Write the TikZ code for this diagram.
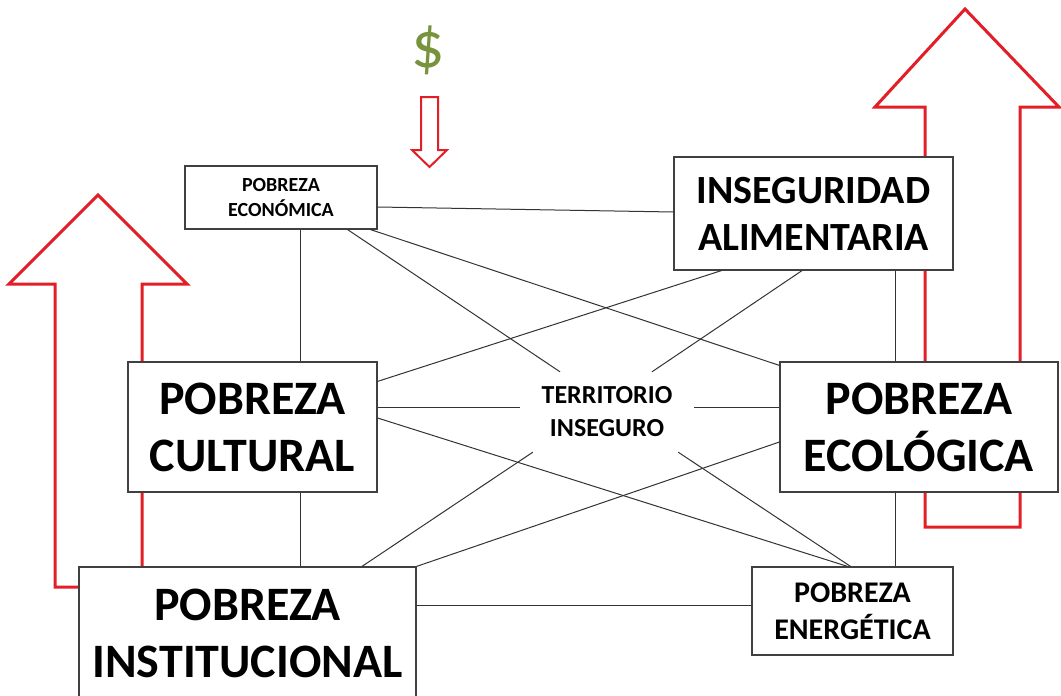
\documentclass[tikz,border=0pt]{standalone}
\usepackage{fontspec}
\setmainfont{Carlito}
\usetikzlibrary{calc}
\definecolor{flechared}{RGB}{226,30,38}
\definecolor{dinerogreen}{RGB}{119,147,60}

\begin{document}
\begin{tikzpicture}[x=1pt, y=-1pt,
		box/.style={draw=black!75, line width=1.2pt, fill=white, align=center, inner sep=0pt},
		link/.style={draw=black!80, line width=1pt},
		redarrow/.style={draw=flechared, line width=3pt, line join=miter}]
			%%%%% START %%%%%
			
			\fill[white] (0, 0) rectangle (1061, 696);
			\useasboundingbox (0, 0) rectangle (1061, 696);
			
			% flechas rojas (detras de las cajas)
			\draw[redarrow] (55, 587) -- (55, 284) -- (9, 284) -- (98, 195) -- (187, 284) -- (142, 284) -- (142, 587) -- cycle;
			\draw[redarrow] (925, 527) -- (925, 107) -- (875, 107) -- (965, 9) -- (1059, 107) -- (1020, 107) -- (1020, 527) -- cycle;
			\draw[draw=flechared, line width=2pt] (421, 97) -- (438, 97) -- (438, 150) -- (447, 150) -- (429.5, 167) -- (412, 150) -- (421, 150) -- cycle;
			
			\node[text=dinerogreen, font=\fontsize{66}{68}\selectfont] (dinero) at (428, 50) {\$};
			
			% cajas
			\node[box, minimum width=192pt, minimum height=63pt, font=\fontsize{20}{25}\selectfont\bfseries] (econ) at (281, 197.5) {POBREZA\\ECONÓMICA};
			\node[box, minimum width=279pt, minimum height=113pt, font=\fontsize{40}{47}\selectfont\bfseries] (insec) at (813.5, 213.5) {INSEGURIDAD\\ALIMENTARIA};
			\node[box, minimum width=249pt, minimum height=130pt, font=\fontsize{48}{57}\selectfont\bfseries] (cult) at (252.5, 427) {POBREZA\\CULTURAL};
			\node[box, minimum width=278pt, minimum height=130pt, font=\fontsize{48}{57}\selectfont\bfseries] (ecol) at (919, 427) {POBREZA\\ECOLÓGICA};
			\node[box, minimum width=337pt, minimum height=133pt, font=\fontsize{48}{57}\selectfont\bfseries] (inst) at (247.5, 633.5) {POBREZA\\INSTITUCIONAL};
			\node[box, minimum width=201pt, minimum height=88pt, font=\fontsize{30}{37}\selectfont\bfseries] (ener) at (852.5, 611) {POBREZA\\ENERGÉTICA};
			\node[align=center, minimum width=174pt, minimum height=80pt, font=\fontsize{26}{33}\selectfont\bfseries] (terr) at (607, 412) {TERRITORIO\\INSEGURO};
			
			% conexiones
			\draw[link] ([yshift=-9.5pt]econ.east) -- ([yshift=1.5pt]insec.west);
			\draw[link] ([xshift=19pt]econ.south) -- ([xshift=19pt]econ.south |- cult.north);
			\draw[link] ([xshift=47.5pt]cult.south) -- ([xshift=47.5pt]cult.south |- inst.north);
			\draw[link] ([xshift=81.5pt]insec.south) -- ([xshift=81.5pt]insec.south |- ecol.north);
			\draw[link] ([xshift=-24pt]ecol.south) -- ([xshift=-24pt]ecol.south |- ener.north);
			\draw[link] ([yshift=6pt]ener.west -| inst.east) -- ([yshift=6pt]ener.west);
			
			\draw[link] ([xshift=-7pt]econ.south east) -- ([yshift=-4pt]ecol.north west);
			\draw[link] ([xshift=-30pt]econ.south east) -- ([xshift=-47pt]terr.north);
			\draw[link] ([xshift=48pt]insec.south west) -- ([yshift=-20pt]cult.north east);
			\draw[link] ([xshift=-11.5pt]insec.south) -- ([xshift=45pt]terr.north);
			\draw[link] ([yshift=5pt]terr.west -| cult.east) -- ([yshift=5pt]terr.west);
			\draw[link] ([yshift=5pt]terr.east) -- ([yshift=5pt]terr.east -| ecol.west);
			\draw[link] ([yshift=9pt]cult.east) -- ([xshift=-5pt]ener.north);
			\draw[link] ([xshift=13pt]terr.south west) -- ([xshift=114.5pt]inst.north);
			\draw[link] ([yshift=-15pt]ecol.west) -- (inst.north east);
			\draw[link] ([xshift=-16pt]terr.south east) -- ([xshift=-2pt]ener.north);
			
			%%%%% END %%%%%
		\end{tikzpicture}
\end{document}
